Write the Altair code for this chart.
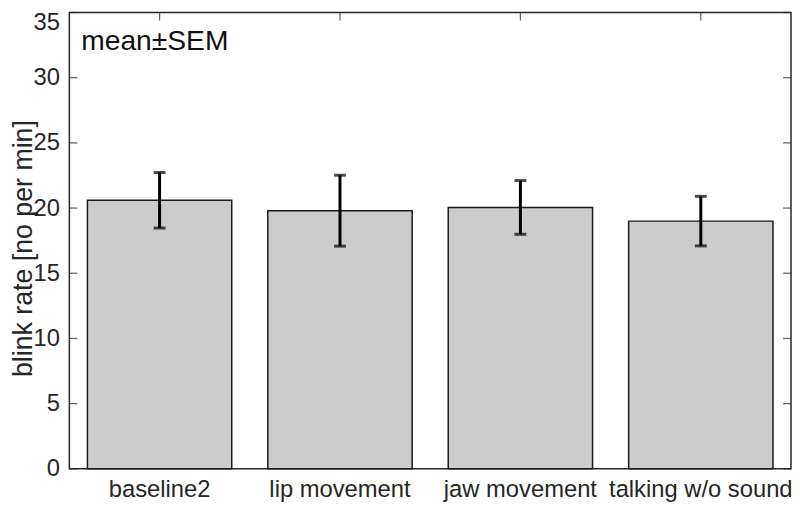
import altair as alt
import pandas as pd

# ---- data ----
categories = ["baseline2", "lip movement", "jaw movement", "talking w/o sound"]
means = [20.6, 19.8, 20.05, 19.0]
sems = [2.13, 2.72, 2.06, 1.90]
y_tick_values = [0, 5, 10, 15, 20, 25, 30, 35]
annotation = ["mean±SEM"]

df = pd.DataFrame({"cat": categories, "mean": means, "sem": sems})
df["lo"] = df["mean"] - df["sem"]
df["hi"] = df["mean"] + df["sem"]
ticks_df = pd.DataFrame({"v": y_tick_values})
ann_df = pd.DataFrame({"t": annotation})

FONT = "Liberation Sans"
INK = "#262626"
YTITLE = "blink rate [no per min]"

xscale = alt.Scale(domain=categories, paddingInner=0.2, paddingOuter=0.1)
yscale = alt.Scale(domain=[0, 35], nice=False, zero=True)

x_axis = alt.Axis(labelAngle=0, ticks=False, domain=False, grid=False,
                  labelPadding=9, labelFontSize=24, labelFont=FONT,
                  labelColor=INK, labelLimit=400)
y_axis = alt.Axis(values=y_tick_values, ticks=False, domain=False, grid=False,
                  labelPadding=10, labelFontSize=24, labelFont=FONT,
                  labelColor=INK,
                  labelOffset={"condition": {"test": "datum.value == 35", "value": 10}, "value": 0},
                  titleFont=FONT, titleFontSize=27, titleFontWeight="normal",
                  titleColor=INK, titleAngle=270, titleX=-38, titleY=238,
                  titleAlign="center", titleBaseline="alphabetic")

X = alt.X("cat:N", sort=categories, scale=xscale, title=None, axis=x_axis)


def Y(field):
    return alt.Y(field, scale=yscale, title=YTITLE, axis=y_axis)


bars = alt.Chart(df).mark_bar(fill="#cccccc", stroke="#1a1a1a", strokeWidth=1.5).encode(
    x=X, y=Y("mean:Q"))

err_line = alt.Chart(df).mark_rule(color="black", strokeWidth=3).encode(
    x=X, y=Y("lo:Q"), y2="hi:Q")
cap_lo = alt.Chart(df).mark_tick(color="black", thickness=3, size=12).encode(
    x=X, y=Y("lo:Q"))
cap_hi = alt.Chart(df).mark_tick(color="black", thickness=3, size=12).encode(
    x=X, y=Y("hi:Q"))

ytick_left = alt.Chart(ticks_df).mark_tick(color=INK, thickness=1.3, size=8).encode(
    x=alt.value(4), y=Y("v:Q"))
ytick_right = alt.Chart(ticks_df).mark_tick(color=INK, thickness=1.3, size=8).encode(
    x=alt.value(725), y=Y("v:Q"))
xtick_top = alt.Chart(df).mark_tick(color=INK, thickness=1.3, size=8, orient="vertical").encode(
    x=X, y=alt.value(4))

text = alt.Chart(ann_df).mark_text(align="left", baseline="alphabetic", font=FONT,
                                   fontSize=28.5, color="#111111").encode(
    x=alt.value(12), y=alt.value(38), text="t:N")

chart = alt.layer(bars, ytick_left, ytick_right, xtick_top, err_line, cap_lo, cap_hi, text).properties(
    width=729, height=461,
    autosize="none",
    padding={"left": 62, "top": 2, "right": 1, "bottom": 38},
    background="white",
).configure_view(stroke=INK, strokeWidth=1.5)

chart.save("out.html", embed_options={"renderer": "svg", "actions": False})
